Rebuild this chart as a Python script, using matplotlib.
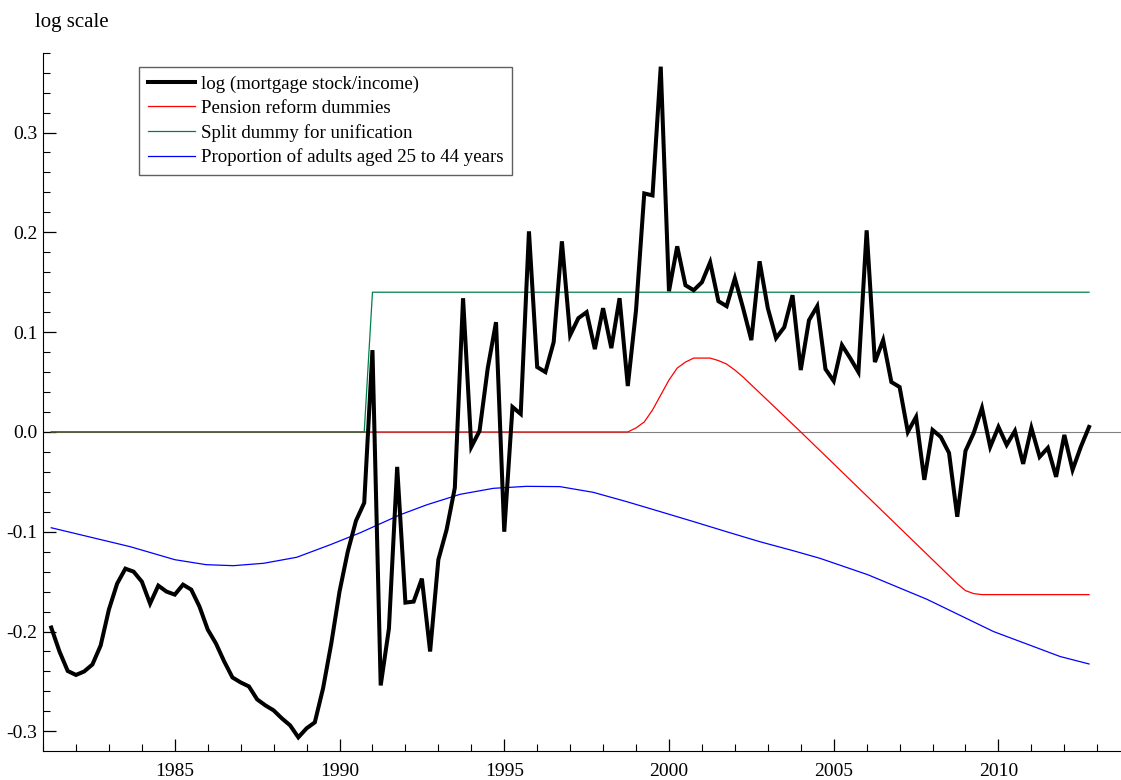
import numpy as np
import matplotlib
matplotlib.use("Agg")
import matplotlib.pyplot as plt
from matplotlib.ticker import MultipleLocator

plt.rcParams['font.family'] = ['Liberation Serif', 'DejaVu Serif']
plt.rcParams['axes.unicode_minus'] = False

# quarterly observations 1981Q2 .. 2012Q4, plotted at year + (q-1)/4
dates = np.arange(1981.25, 2012.76, 0.25)

mortgage = [
    -0.196, -0.220, -0.2395,
    -0.2435, -0.240, -0.233, -0.214,
    -0.178, -0.152, -0.137, -0.140,
    -0.150, -0.172, -0.154, -0.160,
    -0.163, -0.153, -0.158, -0.175,
    -0.198, -0.212, -0.230, -0.246,
    -0.251, -0.255, -0.268, -0.274,
    -0.279, -0.287, -0.294, -0.306,
    -0.297, -0.291, -0.257, -0.212,
    -0.160, -0.120, -0.089, -0.071,
    0.082, -0.254, -0.197, -0.035,
    -0.171, -0.170, -0.147, -0.220,
    -0.128, -0.098, -0.056, 0.134,
    -0.015, 0.001, 0.064, 0.110,
    -0.100, 0.025, 0.018, 0.201,
    0.065, 0.060, 0.090, 0.191,
    0.097, 0.114, 0.120, 0.083,
    0.124, 0.084, 0.134, 0.046,
    0.122, 0.239, 0.237, 0.366,
    0.141, 0.186, 0.147, 0.142,
    0.150, 0.170, 0.131, 0.126,
    0.154, 0.124, 0.092, 0.171,
    0.124, 0.094, 0.105, 0.137,
    0.062, 0.112, 0.126, 0.063,
    0.051, 0.087, 0.074, 0.060,
    0.202, 0.070, 0.092, 0.050,
    0.045, 0.000, 0.015, -0.048,
    0.002, -0.005, -0.021, -0.085,
    -0.019, -0.001, 0.024, -0.015,
    0.005, -0.013, 0.001, -0.032,
    0.004, -0.025, -0.016, -0.045,
    -0.003, -0.038, -0.015, 0.005,
]

pension_x = [1981.25, 1998.75, 1999.0, 1999.25, 1999.5, 1999.75, 2000.0, 2000.25,
             2000.5, 2000.75, 2001.25, 2001.5, 2001.75, 2002.0, 2002.25, 2004.0,
             2006.0, 2007.75, 2008.75, 2009.0, 2009.25, 2009.5, 2012.75]
pension_y = [0.0, 0.0, 0.004, 0.010, 0.022, 0.037, 0.052, 0.064,
             0.070, 0.074, 0.074, 0.0715, 0.068, 0.062, 0.055, 0.000,
             -0.064, -0.120, -0.152, -0.159, -0.162, -0.163, -0.163]

split_x = [1981.25, 1990.75, 1991.0, 2012.75]
split_y = [0.0, 0.0, 0.14, 0.14]

adults_x = [1981.25, 1983.65, 1985.0, 1985.95, 1986.78, 1987.7, 1988.7, 1989.72,
            1990.63, 1991.84, 1992.65, 1993.66, 1994.67, 1995.68, 1996.69, 1997.7,
            1998.71, 1999.73, 2000.74, 2001.75, 2002.76, 2003.77, 2004.58, 2006.03,
            2007.83, 2009.85, 2011.87, 2012.75]
adults_y = [-0.096, -0.115, -0.128, -0.133, -0.134, -0.1316, -0.1256, -0.113,
            -0.101, -0.083, -0.073, -0.0625, -0.0565, -0.0545, -0.0548, -0.0605,
            -0.0698, -0.0798, -0.0898, -0.100, -0.110, -0.119, -0.1266, -0.143,
            -0.1677, -0.200, -0.225, -0.2325]

fig = plt.figure(figsize=(11.21, 7.8), dpi=100)
ax = fig.add_axes([43 / 1121, 1 - 751 / 780, 1 - 43 / 1121, (751 - 52.7) / 780])

ax.axhline(0, color='#808080', lw=0.8, zorder=1)
ax.plot(pension_x, pension_y, color='#ff0000', lw=0.9, zorder=2,
        label='Pension reform dummies')
ax.plot(split_x, split_y, color='#00804a', lw=0.9, zorder=3,
        label='Split dummy for unification')
ax.plot(adults_x, adults_y, color='#0000ff', lw=0.9, zorder=3,
        label='Proportion of adults aged 25 to 44 years')
ax.plot(dates, mortgage, color='black', lw=2.9, zorder=5,
        solid_joinstyle='miter', label='log (mortgage stock/income)')

ax.set_xlim(1981.0, 2013.72)
ax.set_ylim(-0.3197, 0.380)

ax.spines['top'].set_visible(False)
ax.spines['right'].set_visible(False)
ax.xaxis.set_major_locator(MultipleLocator(5))
ax.xaxis.set_minor_locator(MultipleLocator(1))
ax.yaxis.set_major_locator(MultipleLocator(0.1))
ax.yaxis.set_minor_locator(MultipleLocator(0.02))
ax.yaxis.set_major_formatter(plt.FuncFormatter(lambda v, p: '%.1f' % (round(v, 2) + 0.0)))
ax.tick_params(which='major', direction='in', length=9, width=0.9, labelsize=14)
ax.tick_params(which='minor', direction='in', length=5, width=0.8)
ax.tick_params(axis='x', which='major', pad=9)
ax.tick_params(axis='y', which='major', pad=4)

handles, labels = ax.get_legend_handles_labels()
order = [3, 0, 1, 2]
leg = ax.legend([handles[i] for i in order], [labels[i] for i in order],
                loc='upper left', bbox_to_anchor=((139 - 43) / 1078, (751 - 67) / 698.3),
                borderaxespad=0, fontsize=13.6, fancybox=False, framealpha=1,
                edgecolor='#606060', handlelength=2.5, handletextpad=0.35,
                labelspacing=0.36, borderpad=0.45)
leg.get_frame().set_linewidth(1.0)

fig.text(35 / 1121, 1 - 22 / 780, 'log scale', fontsize=15, va='center', ha='left')

fig.savefig('out.png', dpi=100)
